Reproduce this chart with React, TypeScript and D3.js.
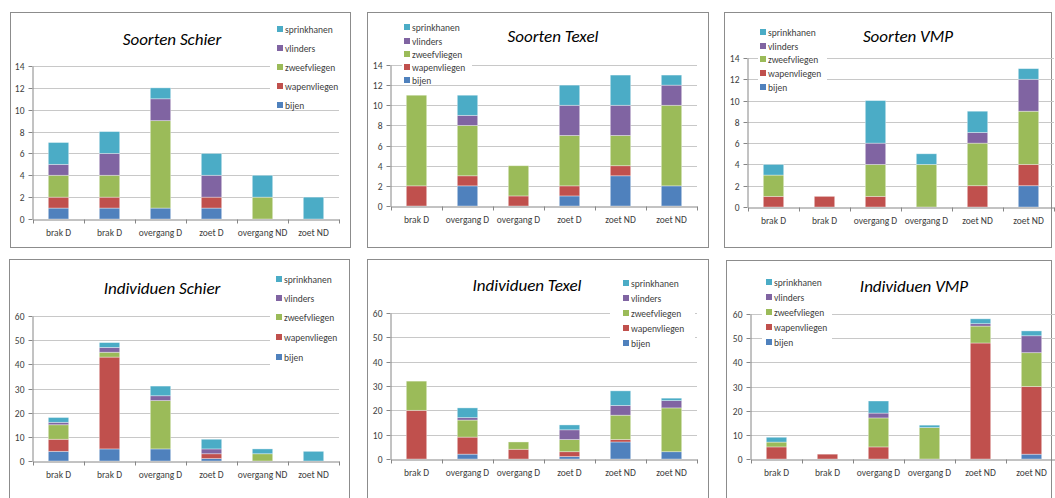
import { useRef, useEffect } from 'react';
import * as d3 from 'd3';

const seriesNames = ['bijen', 'wapenvliegen', 'zweefvliegen', 'vlinders', 'sprinkhanen'];
const seriesColors = ['#4F81BD', '#C0504D', '#9BBB59', '#8064A2', '#4BACC6'];

const schierCategories = ['brak D', 'brak D', 'overgang D', 'zoet D', 'overgang ND', 'zoet ND'];
const texelCategories = ['brak D', 'overgang D', 'overgang D', 'zoet D', 'zoet ND', 'zoet ND'];
const vmpCategories = ['brak D', 'brak D', 'overgang D', 'overgang D', 'zoet ND', 'zoet ND'];

// one row per series, in seriesNames order
const soortenSchier = [
    [1, 1, 1, 1, 0, 0],
    [1, 1, 0, 1, 0, 0],
    [2, 2, 8, 0, 2, 0],
    [1, 2, 2, 2, 0, 0],
    [2, 2, 1, 2, 2, 2],
];
const soortenTexel = [
    [0, 2, 0, 1, 3, 2],
    [2, 1, 1, 1, 1, 0],
    [9, 5, 3, 5, 3, 8],
    [0, 1, 0, 3, 3, 2],
    [0, 2, 0, 2, 3, 1],
];
const soortenVMP = [
    [0, 0, 0, 0, 0, 2],
    [1, 1, 1, 0, 2, 2],
    [2, 0, 3, 4, 4, 5],
    [0, 0, 2, 0, 1, 3],
    [1, 0, 4, 1, 2, 1],
];
const individuenSchier = [
    [4, 5, 5, 1, 0, 0],
    [5, 38, 0, 2, 0, 0],
    [6, 2, 20, 0, 3, 0],
    [1, 2, 2, 2, 0, 0],
    [2, 2, 4, 4, 2, 4],
];
const individuenTexel = [
    [0, 2, 0, 1, 7, 3],
    [20, 7, 4, 2, 1, 0],
    [12, 7, 3, 5, 10, 18],
    [0, 1, 0, 4, 4, 3],
    [0, 4, 0, 2, 6, 1],
];
const individuenVMP = [
    [0, 0, 0, 0, 0, 2],
    [5, 2, 5, 0, 48, 28],
    [2, 0, 12, 13, 7, 14],
    [0, 0, 2, 0, 1, 7],
    [2, 0, 5, 1, 2, 2],
];

const soortenTicks = [0, 2, 4, 6, 8, 10, 12, 14];
const individuenTicks = [0, 10, 20, 30, 40, 50, 60];

const panels = [
    { title: 'Soorten Schier', cats: schierCategories, values: soortenSchier, ticks: soortenTicks,
      box: [10, 12, 350, 247], x0: 33, x1: 339, yTop: 66, y0: 219, titleX: 172, titleY: 45,
      legX: 280, legY: [29, 48, 67, 86, 105], legBg: [270, 20, 345, 108] },
    { title: 'Soorten Texel', cats: texelCategories, values: soortenTexel, ticks: soortenTicks,
      box: [367, 12, 708, 247], x0: 391, x1: 697, yTop: 65, y0: 206, titleX: 553, titleY: 42,
      legX: 407, legY: [27, 41, 54, 67, 80], legBg: [402, 20, 472, 84] },
    { title: 'Soorten VMP', cats: vmpCategories, values: soortenVMP, ticks: soortenTicks,
      box: [724, 12, 1051, 247], x0: 748, x1: 1054, yTop: 58, y0: 207, titleX: 908, titleY: 42,
      legX: 763, legY: [32, 46, 59, 73, 87], legBg: [758, 25, 827, 92] },
    { title: 'Individuen Schier', cats: schierCategories, values: individuenSchier, ticks: individuenTicks,
      box: [9, 259, 349, 510], x0: 33, x1: 339, yTop: 316, y0: 461, titleX: 162, titleY: 294,
      legX: 279, legY: [279, 298, 317, 337, 357], legBg: [270, 270, 345, 366] },
    { title: 'Individuen Texel', cats: texelCategories, values: individuenTexel, ticks: individuenTicks,
      box: [367, 259, 708, 510], x0: 391, x1: 697, yTop: 313, y0: 459, titleX: 527, titleY: 291,
      legX: 626, legY: [283, 298, 313, 328, 343], legBg: [610, 276, 695, 350] },
    { title: 'Individuen VMP', cats: vmpCategories, values: individuenVMP, ticks: individuenTicks,
      box: [726, 260, 1051, 510], x0: 751, x1: 1057, yTop: 314, y0: 459, titleX: 914, titleY: 292,
      legX: 769, legY: [282, 297, 312, 327, 342], legBg: [762, 275, 832, 348] },
];

const FONT = 'Carlito, Calibri, Lato, "Open Sans", sans-serif';

type Panel = typeof panels[number];

function drawPanel(root: d3.Selection<SVGSVGElement, unknown, null, undefined>, p: Panel) {
    const g = root.append('g');
    const [bx0, by0, bx1, by1] = p.box;

    g.append('rect')
        .attr('x', bx0 + 0.5).attr('y', by0 + 0.5)
        .attr('width', bx1 - bx0).attr('height', by1 - by0)
        .attr('fill', '#fff').attr('stroke', '#8c8c8c').attr('stroke-width', 1);

    const idx = d3.range(p.cats.length);
    const x = d3.scaleBand<number>().domain(idx).range([p.x0, p.x1]).padding(0);
    const ymax = p.ticks[p.ticks.length - 1];
    const y = d3.scaleLinear().domain([0, ymax]).range([p.y0, p.yTop]);

    // gridlines
    g.append('g').selectAll('line')
        .data(p.ticks.filter(t => t > 0))
        .enter().append('line')
        .attr('x1', p.x0).attr('x2', p.x1)
        .attr('y1', d => Math.round(y(d)) + 0.5).attr('y2', d => Math.round(y(d)) + 0.5)
        .attr('stroke', '#c8c8c8').attr('stroke-width', 1);

    // stacked bars
    const rows = idx.map(i => {
        const r: Record<string, number> = { i };
        seriesNames.forEach((s, k) => { r[s] = p.values[k][i]; });
        return r;
    });
    const stacked = d3.stack<Record<string, number>>().keys(seriesNames)(rows);
    const barW = x.bandwidth() * 0.4;

    stacked.forEach((layer, k) => {
        g.append('g').selectAll('rect')
            .data(layer.filter(d => d[1] - d[0] > 0))
            .enter().append('rect')
            .attr('x', d => (x(d.data.i) as number) + (x.bandwidth() - barW) / 2)
            .attr('y', d => y(d[1]))
            .attr('width', barW)
            .attr('height', d => y(d[0]) - y(d[1]))
            .attr('fill', seriesColors[k])
            .attr('stroke', 'rgba(255,255,255,0.45)')
            .attr('stroke-width', 0.8);
    });

    // y axis
    const yAxis = g.append('g')
        .attr('transform', `translate(${p.x0 - 0.5},0)`)
        .call(d3.axisLeft(y).tickValues(p.ticks).tickSize(4).tickSizeOuter(0).tickPadding(4));
    yAxis.select('.domain').attr('stroke', '#868686');
    yAxis.selectAll('.tick line').attr('stroke', '#868686');
    yAxis.selectAll('.tick text').attr('fill', '#404040').style('font-family', FONT).style('font-size', '9.5px');
    yAxis.selectAll('.tick').attr('transform', (d: any) => `translate(0,${Math.round(y(d)) + 0.5})`);

    // x axis
    const xAxis = g.append('g')
        .attr('transform', `translate(0,${Math.round(p.y0) + 0.5})`)
        .call(d3.axisBottom(x).tickSize(0).tickPadding(10).tickFormat(i => p.cats[i]));
    xAxis.select('.domain').attr('stroke', '#868686');
    xAxis.selectAll('.tick text').attr('fill', '#404040').style('font-family', FONT).style('font-size', '9.5px');
    g.append('g').selectAll('line')
        .data(d3.range(p.cats.length + 1))
        .enter().append('line')
        .attr('x1', d => Math.round(p.x0 + d * x.step()) + 0.5)
        .attr('x2', d => Math.round(p.x0 + d * x.step()) + 0.5)
        .attr('y1', Math.round(p.y0) + 0.5).attr('y2', Math.round(p.y0) + 4.5)
        .attr('stroke', '#868686');

    // title
    g.append('text')
        .attr('x', p.titleX).attr('y', p.titleY)
        .attr('text-anchor', 'middle')
        .style('font-family', FONT).style('font-size', '17px').style('font-style', 'italic')
        .attr('fill', '#000')
        .text(p.title);

    // legend
    const [lx0, ly0, lx1, ly1] = p.legBg;
    g.append('rect').attr('x', lx0).attr('y', ly0).attr('width', lx1 - lx0).attr('height', ly1 - ly0).attr('fill', '#fff');
    const order = [4, 3, 2, 1, 0];
    order.forEach((k, j) => {
        const cy = p.legY[j];
        g.append('rect').attr('x', p.legX - 3).attr('y', cy - 3).attr('width', 6).attr('height', 6).attr('fill', seriesColors[k]);
        g.append('text').attr('x', p.legX + 5).attr('y', cy + 3.5)
            .style('font-family', FONT).style('font-size', '9.5px').attr('fill', '#404040')
            .text(seriesNames[k]);
    });
}

export default function App() {
    const svgRef = useRef<SVGSVGElement | null>(null);

    useEffect(() => {
        if (!svgRef.current) return;
        const svg = d3.select(svgRef.current);
        svg.selectAll('*').remove();
        svg.append('rect').attr('width', 1055).attr('height', 498).attr('fill', '#fff');
        panels.forEach(p => drawPanel(svg, p));
    }, []);

    return (
        <svg ref={svgRef} width={1055} height={498}
            style={{ position: 'absolute', left: 0, top: 0, display: 'block' }} />
    );
}
